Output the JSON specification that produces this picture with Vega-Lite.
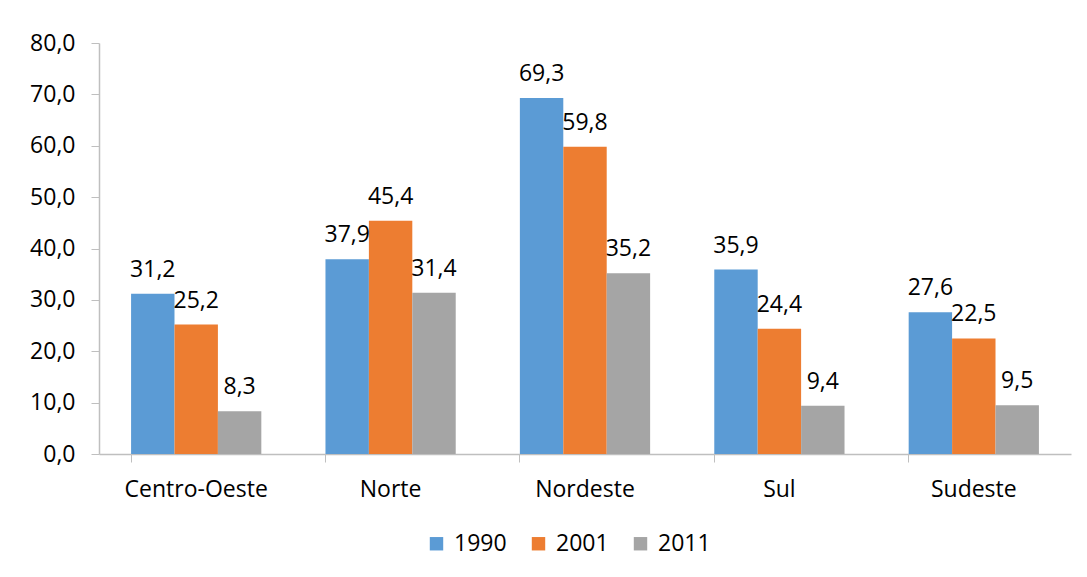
{
  "$schema": "https://vega.github.io/schema/vega-lite/v6.json",
  "width": 972,
  "height": 411,
  "autosize": "none",
  "padding": {"left": 99, "top": 43, "right": 16, "bottom": 123},
  "background": "white",
  "config": {
    "locale": {"number": {"decimal": ",", "thousands": ".", "grouping": [3], "currency": ["R$", ""]}},
    "view": {"stroke": null},
    "font": "Open Sans",
    "axis": {"labelFont": "Open Sans", "labelFontSize": 23, "labelColor": "#000000", "domainColor": "#BFBFBF", "tickColor": "#BFBFBF", "grid": false, "title": null}
  },
  "data": {
    "values": [
      {"regiao": "Centro-Oeste", "ano": "1990", "valor": 31.2},
      {"regiao": "Centro-Oeste", "ano": "2001", "valor": 25.2},
      {"regiao": "Centro-Oeste", "ano": "2011", "valor": 8.3},
      {"regiao": "Norte", "ano": "1990", "valor": 37.9},
      {"regiao": "Norte", "ano": "2001", "valor": 45.4},
      {"regiao": "Norte", "ano": "2011", "valor": 31.4},
      {"regiao": "Nordeste", "ano": "1990", "valor": 69.3},
      {"regiao": "Nordeste", "ano": "2001", "valor": 59.8},
      {"regiao": "Nordeste", "ano": "2011", "valor": 35.2},
      {"regiao": "Sul", "ano": "1990", "valor": 35.9},
      {"regiao": "Sul", "ano": "2001", "valor": 24.4},
      {"regiao": "Sul", "ano": "2011", "valor": 9.4},
      {"regiao": "Sudeste", "ano": "1990", "valor": 27.6},
      {"regiao": "Sudeste", "ano": "2001", "valor": 22.5},
      {"regiao": "Sudeste", "ano": "2011", "valor": 9.5}
    ]
  },
  "encoding": {
    "x": {
      "field": "regiao", "type": "nominal", "sort": null,
      "scale": {"paddingInner": 0.33, "paddingOuter": 0.165},
      "axis": {"labelAngle": 0, "bandPosition": 0, "tickSize": 8, "labelPadding": 16, "domainWidth": 1.5}
    },
    "xOffset": {"field": "ano", "type": "nominal"},
    "y": {
      "field": "valor", "type": "quantitative",
      "scale": {"domain": [0, 80]},
      "axis": {"values": [0, 10, 20, 30, 40, 50, 60, 70, 80], "format": ".1f", "tickSize": 8, "labelPadding": 16, "domainWidth": 1.5}
    }
  },
  "layer": [
    {
      "mark": {"type": "bar"},
      "encoding": {
        "color": {
          "field": "ano", "type": "nominal",
          "scale": {"domain": ["1990", "2001", "2011"], "range": ["#5B9BD5", "#ED7D31", "#A5A5A5"]},
          "legend": {
            "orient": "none", "legendX": 326, "legendY": 489, "direction": "horizontal",
            "title": null, "symbolType": "square", "symbolSize": 180, "symbolStrokeWidth": 0,
            "labelFont": "Open Sans", "labelFontSize": 23, "labelColor": "#000000", "columnPadding": 20, "labelOffset": 6
          }
        }
      }
    },
    {
      "mark": {"type": "text", "baseline": "bottom", "dy": -12, "font": "Open Sans", "fontSize": 23, "color": "#000000"},
      "encoding": {
        "text": {"field": "valor", "type": "quantitative", "format": ".1f"}
      }
    }
  ]
}
